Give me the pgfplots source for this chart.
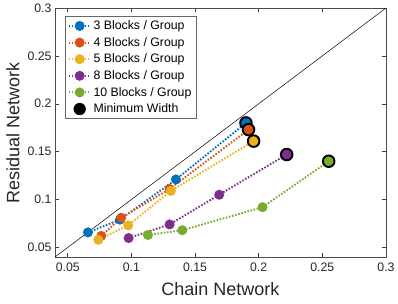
\documentclass[border=0pt]{standalone}
\usepackage{pgfplots}
\pgfplotsset{compat=1.18}
\usepackage{fontspec}
\setmainfont{Liberation Sans}
\definecolor{c1}{rgb}{0,0.447,0.741}
\definecolor{c2}{rgb}{0.85,0.325,0.098}
\definecolor{c3}{rgb}{0.929,0.694,0.125}
\definecolor{c4}{rgb}{0.494,0.184,0.556}
\definecolor{c5}{rgb}{0.466,0.674,0.188}
\pgfplotsset{ser/.style={#1, line width=1.9pt, dash pattern=on 1.6pt off 1.6pt, mark=*, mark size=4pt, mark options={solid, draw=#1, fill=#1}},
  big/.style={only marks, mark=*, mark size=5.8pt, mark options={draw=black, line width=1.9pt, fill=#1}, forget plot}}
\begin{document}
\begin{tikzpicture}[x=1pt,y=1pt]
\begin{axis}[
  at={(0,0)}, anchor=south west,
  scale only axis, width=331pt, height=249pt,
  xmin=0.04, xmax=0.3, ymin=0.04, ymax=0.3,
  xtick={0.05,0.1,0.15,0.2,0.25,0.3},
  ytick={0.05,0.1,0.15,0.2,0.25,0.3},
  xticklabels={0.05,0.1,0.15,0.2,0.25,0.3},
  yticklabels={0.05,0.1,0.15,0.2,0.25,0.3},
  tick align=inside, tick style={color=black!75, line width=0.5pt},
  major tick length=4pt,
  axis line style={black!70, line width=0.6pt},
  ticklabel style={font=\fontsize{12.3}{13}\selectfont, text=black!85},
  xticklabel style={yshift=-2pt},
  xlabel={Chain Network}, ylabel={Residual Network},
  label style={font=\fontsize{18}{19}\selectfont, text=black!85},
  xlabel style={yshift=-4pt}, ylabel style={yshift=1pt},
  legend style={at={(0.03,0.968)}, anchor=north west, draw=black!60, line width=0.6pt,
    font=\fontsize{12.3}{14}\selectfont, row sep=2.2pt, inner sep=2.5pt},
  legend cell align=left,
  legend image code/.code={\draw[mark repeat=2,mark phase=2] plot coordinates {(0pt,0pt)(11pt,0pt)(22pt,0pt)};},
  clip=false,
]
\addplot[black, line width=0.5pt, forget plot] coordinates {(0.04,0.04) (0.3,0.3)};
\addplot[ser=c1] coordinates {(0.0659,0.0657)(0.091,0.079)(0.135,0.121)(0.190,0.180)};
\addlegendentry{3 Blocks / Group}
\addplot[ser=c2] coordinates {(0.0763,0.062)(0.092,0.081)(0.130,0.111)(0.192,0.173)};
\addlegendentry{4 Blocks / Group}
\addplot[ser=c3] coordinates {(0.074,0.058)(0.0975,0.073)(0.131,0.109)(0.196,0.161)};
\addlegendentry{5 Blocks / Group}
\addplot[ser=c4] coordinates {(0.0978,0.0598)(0.130,0.074)(0.169,0.105)(0.222,0.147)};
\addlegendentry{8 Blocks / Group}
\addplot[ser=c5] coordinates {(0.113,0.063)(0.140,0.068)(0.203,0.092)(0.255,0.140)};
\addlegendentry{10 Blocks / Group}
\addplot[big=c1] coordinates {(0.190,0.180)};
\addplot[big=c2] coordinates {(0.192,0.173)};
\addplot[big=c3] coordinates {(0.196,0.161)};
\addplot[big=c4] coordinates {(0.222,0.147)};
\addplot[big=c5] coordinates {(0.255,0.140)};
\addlegendimage{only marks, mark=*, mark size=5.8pt, black}
\addlegendentry{Minimum Width}
\end{axis}
\pgfresetboundingbox
\path (-55,-47) rectangle (343,257);
\end{tikzpicture}
\end{document}
